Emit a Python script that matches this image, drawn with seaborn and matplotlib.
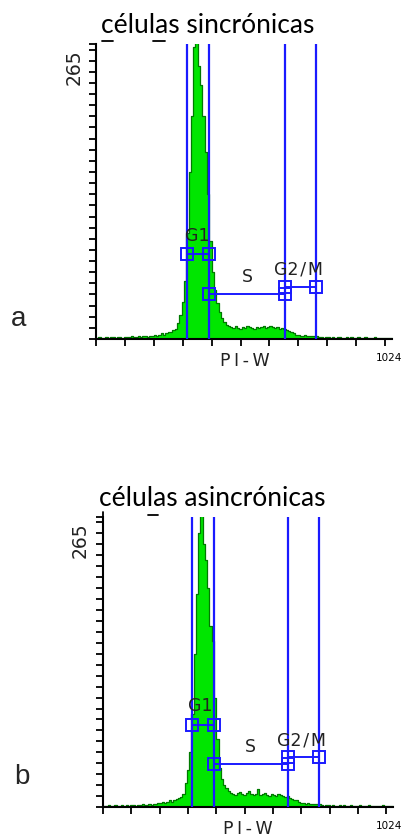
import numpy as np
import pandas as pd
import matplotlib
matplotlib.use("Agg")
import matplotlib.pyplot as plt
from matplotlib.lines import Line2D
import seaborn as sns

# ---------------- data ----------------
BIN_WIDTH = 8
X_MAX = 1024
Y_MAX = 265

titles = ["células sincrónicas", "células asincrónicas"]
panel_letters = ["a", "b"]
x_label = "P\u2009I\u2009-\u2009W"
x_end_label = "1024"
y_top_label = "265"

# histogram counts, one value per 8-channel bin (128 bins, 0..1024)
counts_sync = [
    1, 2, 1, 1, 2, 1, 2, 2, 1, 2, 2, 1, 2,
    2, 2, 3, 2, 2, 3, 2, 3, 3, 2, 3, 3,
    4, 3, 4, 5, 4, 5,
    6, 6, 8, 9, 14, 22, 33, 52, 95, 150, 200, 262, 275,
    245, 228, 200, 168, 130, 88, 60, 44, 32, 24, 19, 15, 13, 12,
    11, 10, 12, 10, 9, 11, 10, 12, 11, 10, 9, 11, 10, 11, 12, 10, 11, 12, 11, 10, 11, 9, 10, 9,
    8, 7, 6, 5, 4,
    4, 3, 3, 4, 3, 3, 3, 3, 3,
    2, 2, 1, 2, 2, 1, 2, 1, 2, 2, 1, 1, 2, 1, 2, 1, 1, 2, 1, 1, 2, 1, 1, 1, 2, 1, 1, 1, 1, 1, 1, 1,
]
counts_async = [
    1, 1, 2, 1, 1, 2, 1, 1, 2, 1, 2, 1, 2,
    2, 1, 2, 2, 3, 2, 2, 3, 2, 3, 3, 4,
    4, 5, 4, 5, 6, 5,
    6, 7, 8, 9, 12, 22, 34, 50, 85, 140, 195, 250, 272,
    240, 226, 200, 165, 152, 100, 62, 36, 26, 20, 17, 15, 13,
    12, 11, 13, 14, 12, 11, 13, 15, 12, 11, 12, 16, 11, 12, 13, 11, 10, 12, 11, 10, 12, 11, 10, 9, 10,
    8, 7, 6, 6, 5,
    4, 4, 3, 4, 3, 3, 3, 3, 3,
    2, 1, 2, 2, 1, 2, 1, 1, 2, 1, 2, 1, 1, 2, 1, 1, 1, 2, 1, 1, 1, 2, 1, 1, 1, 1, 1, 2, 1, 1, 1, 1,
]

gate_names = ["G1", "S", "G2\u200a/\u200aM"]
# panel a
gate_start_a = [315, 391, 654]
gate_end_a = [391, 654, 761]
gate_level_a = [76, 40, 47]
gate_label_x_a = [350, 522, 700]
gate_label_y_a = [93, 57, 63]
# panel b
gate_start_b = [316, 393, 655]
gate_end_b = [393, 655, 763]
gate_level_b = [75, 39, 46]
gate_label_x_b = [344, 520, 700]
gate_label_y_b = [93, 56, 62]

# ---------------- style ----------------
FILL = "#00e600"
EDGE = "#007a00"
BLUE = "#1a1aff"

sns.set_style("ticks")
plt.rcParams["font.family"] = ["DejaVu Sans"]

W, H = 404, 837
fig = plt.figure(figsize=(W / 100, H / 100), dpi=100)


def px_axes(left, right, top, bottom):
    return fig.add_axes([left / W, 1 - bottom / H, (right - left) / W, (bottom - top) / H])


panels = [
    dict(ax=px_axes(96, 392, 45, 340), counts=counts_sync,
         gs=gate_start_a, ge=gate_end_a, gl=gate_level_a,
         lx=gate_label_x_a, ly=gate_label_y_a,
         title_xy=(208, 33), letter_xy=(19, 319),
         ylab_xy=(74, 67), xlab_xy=(245, 361), xend_xy=(389, 358)),
    dict(ax=px_axes(103, 393, 518, 808), counts=counts_async,
         gs=gate_start_b, ge=gate_end_b, gl=gate_level_b,
         lx=gate_label_x_b, ly=gate_label_y_b,
         title_xy=(212, 506), letter_xy=(22, 777),
         ylab_xy=(80, 540), xlab_xy=(248, 829), xend_xy=(389, 826)),
]

edges = [float(e) for e in range(0, X_MAX + BIN_WIDTH, BIN_WIDTH)]
centers = [e + BIN_WIDTH / 2 for e in edges[:-1]]

for i, p in enumerate(panels):
    ax = p["ax"]
    df = pd.DataFrame({"pi_w": centers, "count": p["counts"]})
    sns.histplot(data=df, x="pi_w", weights="count", bins=edges,
                 element="step", fill=True, color=FILL, alpha=1,
                 edgecolor=EDGE, linewidth=0.9, ax=ax)
    ax.set_xlim(0, X_MAX)
    ax.set_ylim(0, Y_MAX)
    ax.set_xlabel("")
    ax.set_ylabel("")
    ax.set_xticks(np.arange(0, 1001, 100))
    ax.set_yticks(list(np.arange(0, 261, 10)) + [Y_MAX])
    ax.tick_params(axis="both", direction="out", length=5, width=1.3,
                   color="black", bottom=True, left=True,
                   labelleft=False, labelbottom=False)
    for s in ["top", "right"]:
        ax.spines[s].set_visible(False)
    for s in ["left", "bottom"]:
        ax.spines[s].set_color("black")
        ax.spines[s].set_linewidth(1.5)
    ax.patch.set_alpha(0)

    # gate boundaries
    bounds = [p["gs"][0], p["ge"][0], p["gs"][2], p["ge"][2]]
    for b in bounds:
        ax.axvline(b, color=BLUE, lw=1.6, zorder=4)
    # gate segments with square handles
    for s, e, lv in zip(p["gs"], p["ge"], p["gl"]):
        ax.plot([s, e], [lv, lv], color=BLUE, lw=1.4, marker="s",
                markersize=8, mfc="none", mec=BLUE, mew=1.4, zorder=5,
                clip_on=False)
    for name, x, y in zip(gate_names, p["lx"], p["ly"]):
        ax.text(x, y, name, ha="center", va="center", fontsize=12.5,
                color="#222222", zorder=6)

    # figure-level texts
    tx, ty = p["title_xy"]
    fig.text(tx / W, 1 - ty / H, titles[i], ha="center", va="baseline",
             fontsize=19, family=["Lato", "DejaVu Sans"], color="black")
    lx, ly = p["letter_xy"]
    fig.text(lx / W, 1 - ly / H, panel_letters[i], ha="center", va="center",
             fontsize=20, family=["Liberation Sans", "DejaVu Sans"])
    yx, yy = p["ylab_xy"]
    fig.text(yx / W, 1 - yy / H, y_top_label, rotation=90, ha="center",
             va="center", fontsize=13.5, color="#222222")
    xx, xy = p["xlab_xy"]
    fig.text(xx / W, 1 - xy / H, x_label, ha="center", va="center",
             fontsize=12.5, color="#222222")
    ex, ey = p["xend_xy"]
    fig.text(ex / W, 1 - ey / H, x_end_label, ha="center", va="center",
             fontsize=7.5, color="black")

# small stray marks seen in the original image
for (x0, x1, y0, y1) in [(102, 113, 42, 42), (153, 165, 42, 42),
                          (103, 103, 513, 518), (148, 158, 516, 516)]:
    fig.add_artist(Line2D([x0 / W, x1 / W], [1 - y0 / H, 1 - y1 / H],
                          color="black", lw=1.3, transform=fig.transFigure))

fig.savefig("out.png", dpi=100)
